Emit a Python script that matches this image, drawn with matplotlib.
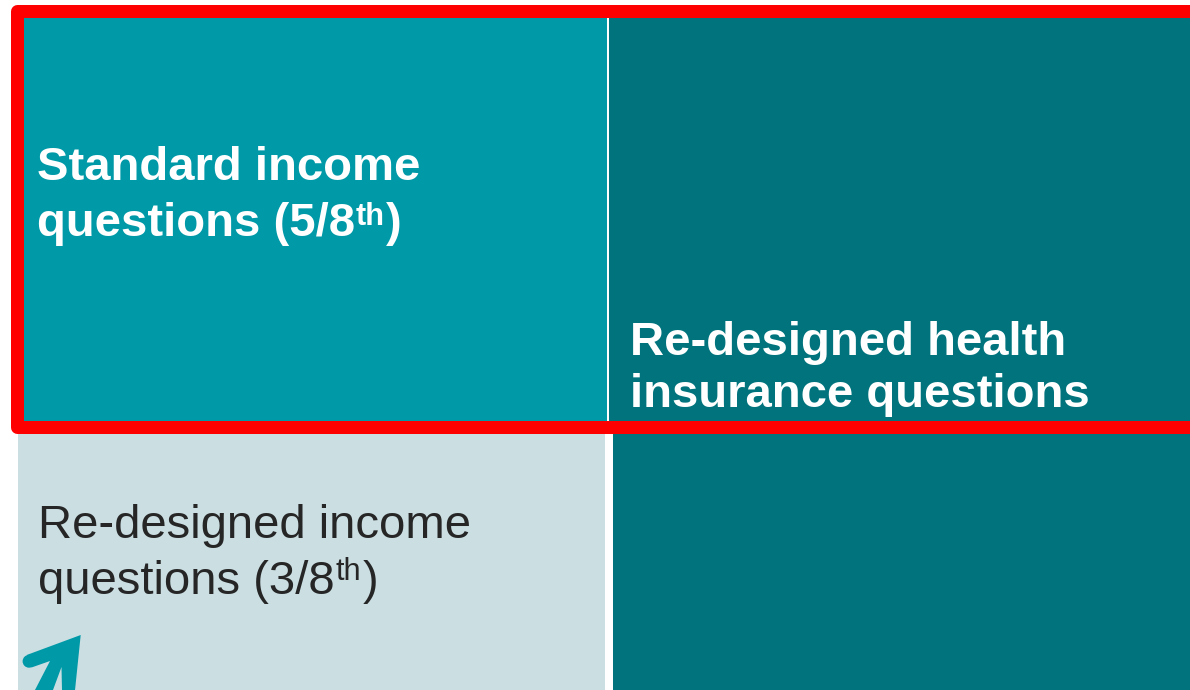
import matplotlib
matplotlib.use("Agg")
import matplotlib.pyplot as plt
from matplotlib.patches import Rectangle, Polygon, Circle
from matplotlib.lines import Line2D

# ---- content ----
cell_labels = ["Standard income", "Re-designed income", "Re-designed health"]
line2_main = ["questions (5/8", "questions (3/8", "insurance questions"]
line2_sup = ["th", "th", ""]
line2_tail = [")", ")", ""]
income_shares = ["5/8", "3/8"]

# ---- colours ----
C_TEAL = "#0099A8"
C_DARK = "#00737C"
C_LIGHT = "#CBDFE3"
C_RED = "#FF0000"
C_TEXT_DARK = "#262626"

W, H = 1190, 690
fig = plt.figure(figsize=(W / 100, H / 100), dpi=100)
ax = fig.add_axes([0, 0, 1, 1])
ax.set_xlim(0, W)
ax.set_ylim(H, 0)
ax.axis("off")

# cells (layout in pixel units)
ax.add_patch(Rectangle((18, 10), 607 - 18, 426 - 10, facecolor=C_TEAL, edgecolor="none", zorder=1))
ax.add_patch(Rectangle((609, 10), W + 10 - 609, 426 - 10, facecolor=C_DARK, edgecolor="none", zorder=1))
ax.add_patch(Rectangle((18, 426), 605 - 18, H + 10 - 426, facecolor=C_LIGHT, edgecolor="none", zorder=1))
ax.add_patch(Rectangle((613, 426), W + 10 - 613, H + 10 - 426, facecolor=C_DARK, edgecolor="none", zorder=1))

# red highlight frame (open on the right, it runs off the picture)
ax.add_line(Line2D([W + 30, 16.5, 16.5, W + 30], [426.5, 426.5, 10.5, 10.5], color=C_RED,
                   linewidth=13 * 0.72, solid_joinstyle="round", solid_capstyle="butt", zorder=3))

FS = 34
FONT = "Liberation Sans"

fig.canvas.draw()
renderer = fig.canvas.get_renderer()
inv = ax.transData.inverted()


def two_line(x, y1, y2, l1, l2, sup, tail, color, weight, raise_px):
    ax.text(x, y1, l1, fontsize=FS, color=color, fontweight=weight, family=FONT,
            va="baseline", ha="left", zorder=4)
    t = ax.text(x, y2, l2, fontsize=FS, color=color, fontweight=weight, family=FONT,
                va="baseline", ha="left", zorder=4)
    if sup:
        bb = t.get_window_extent(renderer=renderer)
        xe = inv.transform((bb.x1, 0))[0]
        s = ax.text(xe + 1, y2 - raise_px, sup, fontsize=FS * 0.65, color=color, fontweight=weight,
                    family=FONT, va="baseline", ha="left", zorder=4)
        bb2 = s.get_window_extent(renderer=renderer)
        xe2 = inv.transform((bb2.x1, 0))[0]
        ax.text(xe2 + 1, y2, tail, fontsize=FS, color=color, fontweight=weight, family=FONT,
                va="baseline", ha="left", zorder=4)


two_line(37, 180, 236, cell_labels[0], line2_main[0], line2_sup[0], line2_tail[0], "white", "bold", 11)
two_line(38, 538, 594, cell_labels[1], line2_main[1], line2_sup[1], line2_tail[1], C_TEXT_DARK, "normal", 14)
two_line(630, 355, 407, cell_labels[2], line2_main[2], line2_sup[2], line2_tail[2], "white", "bold", 11)

# arrow decoration in the lower-left cell
arrow_pts = [(80.7, 635), (74, 700), (62.2, 700), (61.5, 667), (49.3, 700), (29.8, 700),
             (50, 661), (31.5, 667.5), (26.7, 655)]
ax.add_patch(Polygon(arrow_pts, closed=True, facecolor=C_TEAL, edgecolor="none", zorder=2))
ax.add_patch(Circle((29, 661.3), 6.4, facecolor=C_TEAL, edgecolor="none", zorder=2))

fig.savefig("out.png", dpi=100)
